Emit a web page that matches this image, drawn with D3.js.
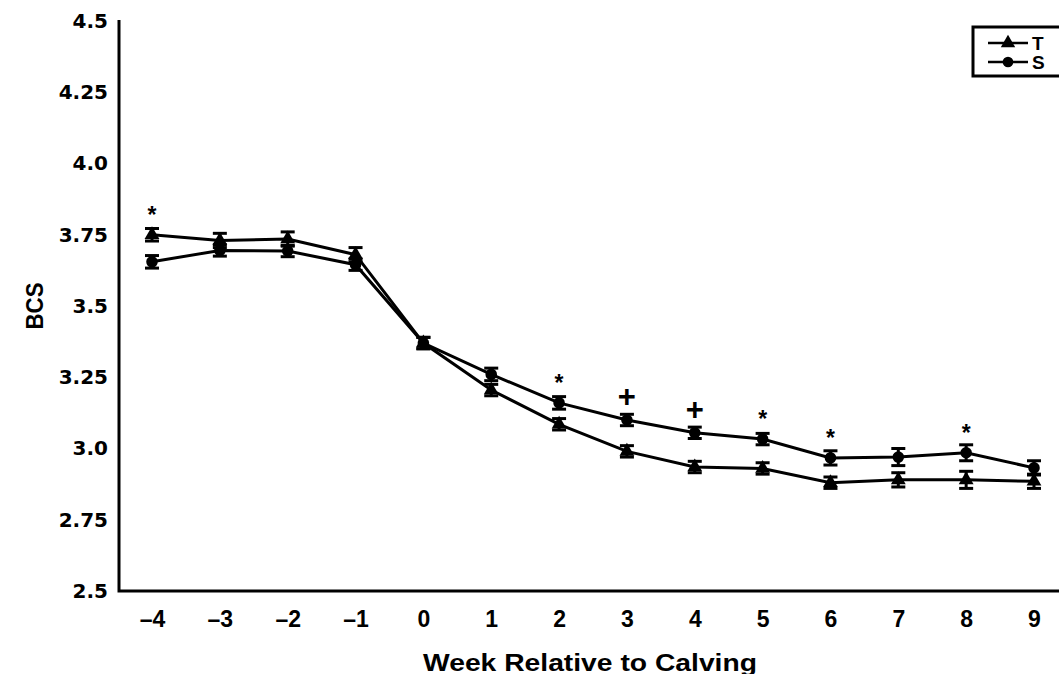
<!DOCTYPE html>
<html>
<head>
<meta charset="utf-8">
<script src="https://cdn.jsdelivr.net/npm/d3@7"></script>
<style>
  body { margin: 0; background: #fff; }
  svg { display: block; }
</style>
</head>
<body>
<div id="chart"></div>
<script>
const width = 1059
const height = 674
const margin = { top: 21, bottom: 83, left: 119, right: 0 }

// data
const weeks = [-4, -3, -2, -1, 0, 1, 2, 3, 4, 5, 6, 7, 8, 9]
const tValues = [3.75, 3.73, 3.735, 3.68, 3.37, 3.205, 3.085, 2.99, 2.935, 2.93, 2.88, 2.89, 2.89, 2.885]
const sValues = [3.655, 3.695, 3.693, 3.645, 3.37, 3.26, 3.16, 3.10, 3.055, 3.033, 2.967, 2.97, 2.985, 2.932]
const tErr = [0.022, 0.025, 0.025, 0.025, 0.02, 0.02, 0.02, 0.02, 0.02, 0.02, 0.02, 0.025, 0.03, 0.025]
const sErr = [0.022, 0.02, 0.02, 0.02, 0.02, 0.022, 0.022, 0.02, 0.02, 0.02, 0.025, 0.03, 0.028, 0.025]
const marks = [
  { week: -4, sym: "*" }, { week: 2, sym: "*" }, { week: 3, sym: "+" },
  { week: 4, sym: "+" }, { week: 5, sym: "*" }, { week: 6, sym: "*" }, { week: 8, sym: "*" }
]
const yTicks = [2.5, 2.75, 3.0, 3.25, 3.5, 3.75, 4.0, 4.25, 4.5]
const yTickLabels = ["2.5", "2.75", "3.0", "3.25", "3.5", "3.75", "4.0", "4.25", "4.5"]
const legendNames = ["T", "S"]

const font = "'Liberation Sans', Arial, Helvetica, sans-serif"
const wideFont = "'DejaVu Sans', 'Liberation Sans', Arial, sans-serif"

let svg = d3.select("#chart").append("svg")
    .attr("width", width)
    .attr("height", height)

let x = d3.scaleLinear()
    .domain([-4, 9])
    .range([152, 1034])

let y = d3.scaleLinear()
    .domain([2.5, 4.5])
    .range([height - margin.bottom, margin.top])

// axes: no tick marks, only the lines and labels
let xAxis = d3.axisBottom(x)
    .tickValues(weeks)
    .tickSize(0)
    .tickPadding(20)
    .tickFormat(d => d < 0 ? "\u2013" + Math.abs(d) : d)

let xAxisG = svg.append("g")
    .attr("transform", `translate(0,${y(2.5)})`)
    .call(xAxis)
xAxisG.select(".domain").remove()
xAxisG.selectAll("text")
    .attr("font-family", font)
    .attr("font-weight", "bold")
    .attr("font-size", "23px")
    .attr("fill", "#000")

let yAxis = d3.axisLeft(y)
    .tickValues(yTicks)
    .tickSize(0)
    .tickPadding(11)
    .tickFormat((d, i) => yTickLabels[i])

let yAxisG = svg.append("g")
    .attr("transform", `translate(${margin.left},0)`)
    .call(yAxis)
yAxisG.select(".domain").remove()
yAxisG.selectAll("text")
    .attr("font-family", wideFont)
    .attr("font-weight", "bold")
    .attr("font-size", "20px")
    .attr("fill", "#000")

// frame lines
svg.append("path")
    .attr("d", `M${margin.left},${y(4.5) - 1}V${y(2.5)}H${width}`)
    .attr("fill", "none")
    .attr("stroke", "#000")
    .attr("stroke-width", 3)

// axis titles
svg.append("text")
    .attr("x", 590)
    .attr("y", height - 3)
    .attr("text-anchor", "middle")
    .attr("font-family", font)
    .attr("font-weight", "bold")
    .attr("font-size", "24px")
    .attr("textLength", 334)
    .attr("lengthAdjust", "spacingAndGlyphs")
    .text("Week Relative to Calving")

svg.append("text")
    .attr("transform", `translate(43,${y(3.5)}) rotate(-90)`)
    .attr("text-anchor", "middle")
    .attr("font-family", font)
    .attr("font-weight", "bold")
    .attr("font-size", "23px")
    .attr("textLength", 47)
    .attr("lengthAdjust", "spacingAndGlyphs")
    .text("BCS")

let tData = weeks.map((w, i) => ({ week: w, value: tValues[i], err: tErr[i] }))
let sData = weeks.map((w, i) => ({ week: w, value: sValues[i], err: sErr[i] }))

let line = d3.line()
    .x(d => x(d.week))
    .y(d => y(d.value))

let triangle = d3.symbol().type(d3.symbolTriangle).size(95)
let circle = d3.symbol().type(d3.symbolCircle).size(105)

function drawSeries(data, sym) {
    let g = svg.append("g")
    g.append("path")
        .datum(data)
        .attr("d", line)
        .attr("fill", "none")
        .attr("stroke", "#000")
        .attr("stroke-width", 3)

    // error bars
    let eb = g.selectAll(".err")
        .data(data)
        .join("g")
    eb.append("line")
        .attr("x1", d => x(d.week)).attr("x2", d => x(d.week))
        .attr("y1", d => y(d.value - d.err)).attr("y2", d => y(d.value + d.err))
        .attr("stroke", "#000").attr("stroke-width", 3)
    eb.selectAll(".cap")
        .data(d => [d.value - d.err, d.value + d.err].map(v => ({ week: d.week, v: v })))
        .join("line")
        .attr("x1", d => x(d.week) - 7).attr("x2", d => x(d.week) + 7)
        .attr("y1", d => y(d.v)).attr("y2", d => y(d.v))
        .attr("stroke", "#000").attr("stroke-width", 3)

    g.selectAll(".pt")
        .data(data)
        .join("path")
        .attr("transform", d => `translate(${x(d.week)},${y(d.value)})`)
        .attr("d", sym)
        .attr("fill", "#000")
}

drawSeries(sData, circle)
drawSeries(tData, triangle)

// significance marks above the higher point
svg.selectAll(".sig")
    .data(marks)
    .join("text")
    .attr("x", d => x(d.week))
    .attr("y", d => {
        let i = weeks.indexOf(d.week)
        let top = y(Math.max(tValues[i], sValues[i]))
        return d.sym === "*" ? top - 25 + 13 : top - 23 + 10
    })
    .attr("text-anchor", "middle")
    .attr("font-family", font)
    .attr("font-weight", "bold")
    .attr("font-size", d => d.sym === "*" ? "23px" : "31px")
    .text(d => d.sym)

// legend
let legend = svg.append("g").attr("transform", "translate(973,27)")
legend.append("rect")
    .attr("x", 0).attr("y", 0)
    .attr("width", 95).attr("height", 49)
    .attr("fill", "#fff")
    .attr("stroke", "#000")
    .attr("stroke-width", 3)

let entries = legend.selectAll(".entry")
    .data(legendNames)
    .join("g")
    .attr("transform", (d, i) => `translate(15,${16 + i * 19})`)
entries.append("line")
    .attr("x1", 0).attr("x2", 40)
    .attr("stroke", "#000").attr("stroke-width", 2.5)
entries.append("path")
    .attr("transform", "translate(20,0)")
    .attr("d", (d, i) => (i === 0 ? d3.symbol().type(d3.symbolTriangle).size(90) : d3.symbol().type(d3.symbolCircle).size(90))())
    .attr("fill", "#000")
entries.append("text")
    .attr("x", 44)
    .attr("y", 7)
    .attr("font-family", font)
    .attr("font-weight", "bold")
    .attr("font-size", "19px")
    .text(d => d)
</script>
</body>
</html>
